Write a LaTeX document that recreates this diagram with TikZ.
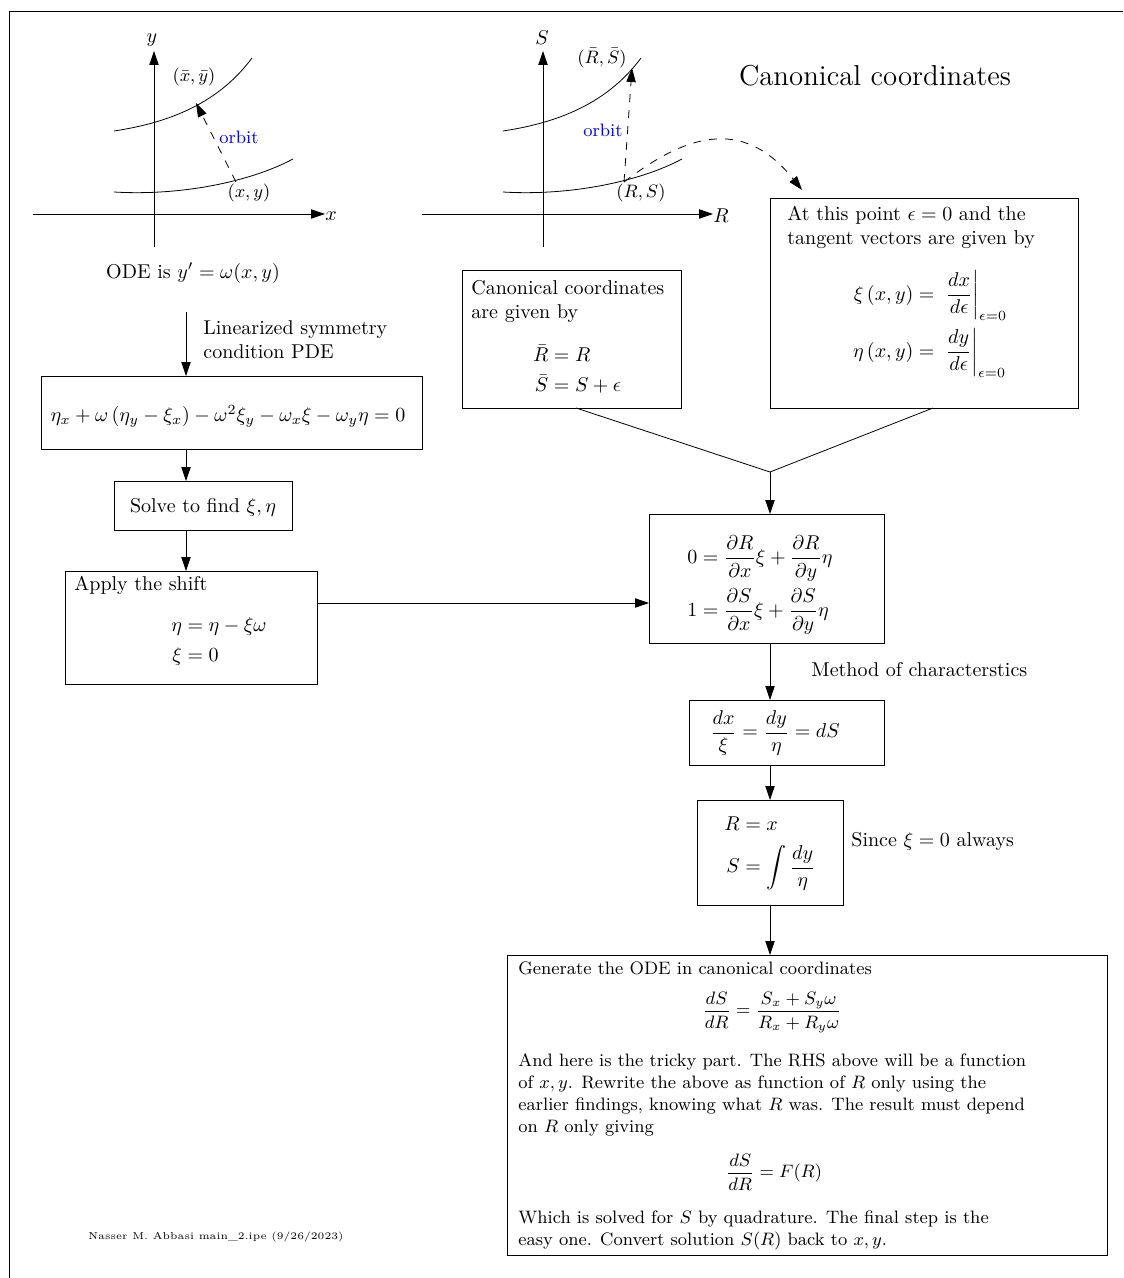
\documentclass[tikz,border=0pt]{standalone}
\usepackage{amsmath}
\usetikzlibrary{arrows.meta}
\begin{document}
\begin{tikzpicture}[x=0.5pt,y=-0.5pt,
  box/.style={draw, inner sep=0pt, outer sep=0pt, anchor=north west},
  arr/.style={-{Triangle[length=7pt,width=4.67pt]}},
  dsh/.style={dash pattern=on 4pt off 4pt},
  txt/.style={inner sep=0pt, anchor=north west, align=left},
  lbl/.style={inner sep=0pt, font=\small},
]
\useasboundingbox (0,0) rectangle (1123,1278);
\draw (1123,11) -- (9,11) -- (9,1278);

% ---- left graph
\draw[arr] (33,214) -- (325,214);
\draw[arr] (154,247) -- (154,51);
\node (ylab) at (152,40) {$y$};
\node[anchor=west, inner sep=0pt] (xlab) at (325,216) {$x$};
\draw (114,192) .. controls (180,196) and (250,182) .. (293,159);
\draw (114,131) .. controls (160,124) and (215,108) .. (252,58);
\coordinate (xy) at (236,182);
\coordinate (xybar) at (196,103);
\draw[arr, dsh] (xy) -- (xybar);
\node[lbl] (xybarlab) at (194,77) {$(\bar{x},\bar{y})$};
\node[lbl] (xylab) at (249,193) {$(x,y)$};
\node[lbl, text=blue] (orbit1) at (239,137) {orbit};
\node (ode) at (193,273) {ODE is $y'=\omega(x,y)$};

% ---- right graph
\draw[arr] (422,214) -- (713,214);
\draw[arr] (543,247) -- (543,51);
\node (Slab) at (542,38) {$S$};
\node[anchor=west, inner sep=0pt] (Rlab) at (713,216) {$R$};
\draw (503,192) .. controls (569,196) and (639,182) .. (682,159);
\draw (503,131) .. controls (549,124) and (604,108) .. (641,58);
\coordinate (RS) at (624,182);
\coordinate (RSbar) at (632,68);
\draw[arr, dsh] (RS) -- (RSbar);
\node[lbl] (RSbarlab) at (602,58) {$(\bar{R},\bar{S})$};
\node[lbl] (RSlab) at (641,193) {$(R,S)$};
\node[lbl, text=blue] (orbit2) at (603,130) {orbit};

\node[font=\Large] (title) at (875,76) {Canonical coordinates};

% ---- left flow
\coordinate (spine) at (186,312);
\node[box, minimum width=190.5pt, minimum height=36.5pt] (pde) at (41,376) {};
\node (pdetext) at (228,416) {$\eta_x+\omega\left(\eta_y-\xi_x\right)-\omega^2\xi_y-\omega_x\xi-\omega_y\eta=0$};
\draw[arr] (spine) -- (spine |- pde.north);
\node[txt] (linlab) at (203,320) {Linearized symmetry\\condition PDE};

\node[box, minimum width=89pt, minimum height=24.5pt] (solve) at (114,481) {};
\node (solvetext) at (203,507) {Solve to find $\xi,\eta$};
\draw[arr] (pde.south -| spine) -- (solve.north -| spine);

\node[box, minimum width=126pt, minimum height=56.5pt] (shift) at (65,571) {};
\node[txt] (shifttitle) at (74,576) {Apply the shift};
\node (shifteq) at (219,642) {$\begin{aligned}\eta&=\eta-\xi\omega\\ \xi&=0\end{aligned}$};
\draw[arr] (solve.south -| spine) -- (shift.north -| spine);

% ---- right flow
\node[box, minimum width=109.5pt, minimum height=69pt] (canon) at (462,270) {};
\node[txt] (canontext) at (471,280) {Canonical coordinates\\are given by};
\node (canoneq) at (577,372) {$\begin{aligned}\bar R&=R\\ \bar S&=S+\epsilon\end{aligned}$};

\node[box, minimum width=154pt, minimum height=105pt] (tangent) at (770,198) {};
\node[txt] (tangenttext) at (787,206) {At this point $\epsilon=0$ and the\\tangent vectors are given by};
\node (tangenteq) at (930,324) {$\begin{aligned}\xi\left(x,y\right)&=\,\left.\frac{dx}{d\epsilon}\right|_{\epsilon=0}\\ \eta\left(x,y\right)&=\,\left.\frac{dy}{d\epsilon}\right|_{\epsilon=0}\end{aligned}$};

\coordinate (tgtin) at (802,190);
\draw[arr, dsh] (RS) .. controls (684,136) and (742,115) .. (tgtin);

\coordinate (merge) at (770,472);
\node[box, minimum width=117.5pt, minimum height=64.5pt] (partial) at (649,514) {};
\node (partialeq) at (760,585) {$\begin{aligned}0&=\frac{\partial R}{\partial x}\xi+\frac{\partial R}{\partial y}\eta\\ 1&=\frac{\partial S}{\partial x}\xi+\frac{\partial S}{\partial y}\eta\end{aligned}$};
\draw ([xshift=2.25pt]canon.south) -- (merge);
\draw ([xshift=4.5pt]tangent.south) -- (merge);
\draw[arr] (merge) -- (merge |- partial.north);
\draw[arr] ([yshift=12.25pt]shift.east) -- ([yshift=12.25pt]shift.east -| partial.west);

\node[box, minimum width=97.5pt, minimum height=32.5pt] (char) at (689,700) {};
\node (chareq) at (775,733) {$\displaystyle\frac{dx}{\xi}=\frac{dy}{\eta}=dS$};
\draw[arr] (merge |- partial.south) -- (merge |- char.north);
\node[anchor=west, inner sep=0pt] (methlab) at (811,670) {Method of characterstics};

\node[box, minimum width=73pt, minimum height=52.5pt] (rs) at (697,800) {};
\node (rseq) at (770,852) {$\begin{aligned}R&=x\\ S&=\int\frac{dy}{\eta}\end{aligned}$};
\draw[arr] (merge |- char.south) -- (merge |- rs.north);
\node[anchor=west, inner sep=0pt] (sincelab) at (851,841) {Since $\xi=0$ always};

\node[box, minimum width=300pt, minimum height=150pt] (final) at (507,955) {};
\draw[arr] (merge |- rs.south) -- (merge |- final.north);
\node[txt, font=\small] (fin1) at (518,961) {Generate the ODE in canonical coordinates};
\node[font=\small] (fineq1) at (772,1012) {$\displaystyle\frac{dS}{dR}=\frac{S_x+S_y\omega}{R_x+R_y\omega}$};
\node[txt, font=\small] (fin2) at (518,1053) {And here is the tricky part. The RHS above will be a function\\of $x,y$. Rewrite the above as function of $R$ only using the\\earlier findings, knowing what $R$ was. The result must depend\\on $R$ only giving};
\node[font=\small] (fineq2) at (774,1172) {$\displaystyle\frac{dS}{dR}=F(R)$};
\node[txt, font=\small] (fin3) at (518,1210) {Which is solved for $S$ by quadrature. The final step is the\\easy one. Convert solution $S(R)$ back to $x,y$.};

\node[font=\tiny] (footer) at (216,1237) {Nasser M. Abbasi main\_2.ipe (9/26/2023)};
\end{tikzpicture}
\end{document}
